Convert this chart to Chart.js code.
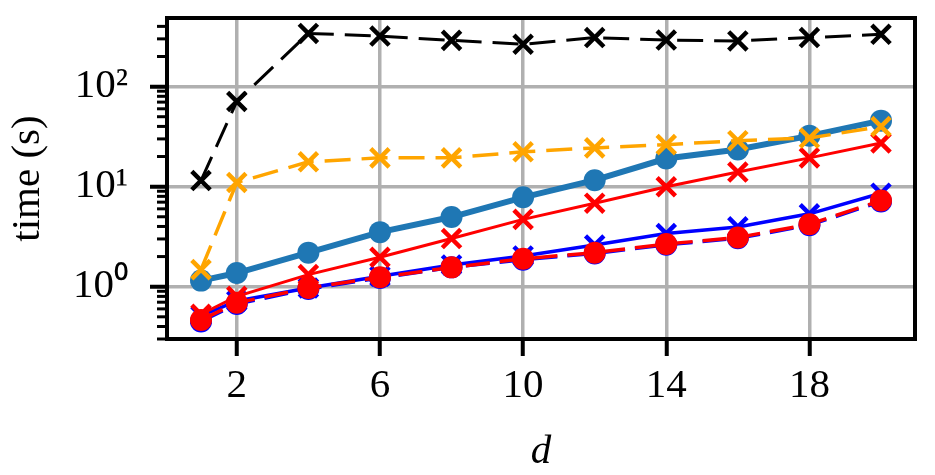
<!DOCTYPE html>
<html>
<head>
<meta charset="utf-8">
<script src="https://cdn.jsdelivr.net/npm/chart.js@4"></script>
<style>
  body { margin: 0; background: #fff; }
  canvas { display: block; }
</style>
</head>
<body>
<canvas id="chart" width="935" height="475"></canvas>
<script>
  // problem size d
  const dValues = [1, 2, 4, 6, 8, 10, 12, 14, 16, 18, 20];

  // run times in seconds, one array per method
  const blackCross  = [11.5, 71, 340, 320, 290, 265, 309, 292, 286, 309, 333];
  const orangeCross = [1.48, 11.0, 17.7, 19.4, 19.4, 22.3, 24.4, 26.3, 28.8, 30.6, 39.9];
  const tabBlueDots = [1.15, 1.37, 2.19, 3.51, 4.97, 7.82, 11.6, 19.1, 23.5, 32.2, 45.7];
  const redCross    = [0.53, 0.80, 1.32, 1.97, 3.03, 4.71, 6.83, 9.98, 14.0, 19.4, 27.3];
  const blueCross   = [0.51, 0.72, 0.97, 1.27, 1.65, 2.03, 2.61, 3.40, 3.96, 5.35, 8.6];
  const blueDots    = [0.45, 0.67, 0.95, 1.22, 1.56, 1.86, 2.15, 2.62, 3.05, 4.12, 7.1];
  const redDots     = [0.464, 0.69, 0.97, 1.24, 1.56, 1.90, 2.19, 2.67, 3.10, 4.21, 7.26];

  // axis ticks
  const xTicks = [2, 6, 10, 14, 18];
  const yTicks = [1, 10, 100];
  const yTickLabels = ['10⁰', '10¹', '10²'];

  const serif = "'Liberation Serif', 'Times New Roman', serif";

  function pts(vals) {
    return dValues.map((d, i) => ({ x: d, y: vals[i] }));
  }

  // box round the plot + minor ticks on the log axis
  const frame = {
    id: 'frame',
    afterDraw(chart) {
      const ctx = chart.ctx;
      const a = chart.chartArea;
      const y = chart.scales.y;
      ctx.save();
      ctx.strokeStyle = '#000';
      ctx.lineWidth = 3;
      for (let e = -1; e <= 2; e++) {
        for (let m = 2; m <= 9; m++) {
          const v = m * Math.pow(10, e);
          if (v < y.min || v > y.max) continue;
          const py = y.getPixelForValue(v);
          ctx.beginPath();
          ctx.moveTo(a.left - 10, py);
          ctx.lineTo(a.left, py);
          ctx.stroke();
        }
      }
      ctx.lineWidth = 4;
      ctx.strokeRect(a.left, a.top, a.right - a.left, a.bottom - a.top);
      ctx.restore();
    }
  };

  const ctx = document.getElementById('chart').getContext('2d');
  new Chart(ctx, {
    type: 'line',
    data: {
      datasets: [
        {
          data: pts(blackCross), order: 0,
          borderColor: '#000', borderWidth: 3, borderDash: [26, 11],
          pointStyle: 'crossRot', pointRadius: 13, pointBorderWidth: 4.5,
          pointBorderColor: '#000'
        },
        {
          data: pts(orangeCross), order: 1,
          borderColor: '#ffa500', borderWidth: 3.5, borderDash: [26, 11],
          pointStyle: 'crossRot', pointRadius: 13, pointBorderWidth: 4.5,
          pointBorderColor: '#ffa500'
        },
        {
          data: pts(redDots), order: 2,
          borderColor: '#ff0000', borderWidth: 3.5, borderDash: [24, 10],
          pointStyle: 'circle', pointRadius: 11, pointBorderWidth: 0,
          pointBackgroundColor: '#ff0000'
        },
        {
          data: pts(blueDots), order: 3,
          borderColor: '#0000ff', borderWidth: 3.5, borderDash: [24, 10],
          pointStyle: 'circle', pointRadius: 11, pointBorderWidth: 0,
          pointBackgroundColor: '#0000ff'
        },
        {
          data: pts(redCross), order: 4,
          borderColor: '#ff0000', borderWidth: 3,
          pointStyle: 'crossRot', pointRadius: 13, pointBorderWidth: 4.5,
          pointBorderColor: '#ff0000'
        },
        {
          data: pts(blueCross), order: 5,
          borderColor: '#0000ff', borderWidth: 3.5,
          pointStyle: 'crossRot', pointRadius: 13, pointBorderWidth: 4.5,
          pointBorderColor: '#0000ff'
        },
        {
          data: pts(tabBlueDots), order: 6,
          borderColor: '#1f77b4', borderWidth: 6,
          pointStyle: 'circle', pointRadius: 11, pointBorderWidth: 0,
          pointBackgroundColor: '#1f77b4'
        }
      ]
    },
    options: {
      responsive: false,
      devicePixelRatio: 1,
      animation: false,
      layout: { padding: { left: 0, right: 20, top: 18, bottom: 0 } },
      plugins: { legend: { display: false }, tooltip: { enabled: false } },
      scales: {
        x: {
          type: 'linear',
          min: 0.05,
          max: 20.95,
          afterBuildTicks: s => { s.ticks = xTicks.map(v => ({ value: v })); },
          afterFit: s => { s.height = 136; s.paddingLeft = 0; s.paddingRight = 0; },
          ticks: {
            callback: v => String(v),
            color: '#000',
            font: { family: serif, size: 41 },
            padding: 6,
            maxRotation: 0,
            autoSkip: false
          },
          grid: {
            color: '#b0b0b0', lineWidth: 3.5,
            tickColor: '#000', tickWidth: 4, tickLength: 17
          },
          border: { display: false },
          title: {
            display: true,
            text: 'd',
            color: '#000',
            font: { family: serif, size: 41, style: 'italic', lineHeight: 1 },
            padding: { top: 0, bottom: 2 }
          }
        },
        y: {
          type: 'logarithmic',
          min: 0.333,
          max: 485,
          afterBuildTicks: s => { s.ticks = yTicks.map(v => ({ value: v })); },
          afterFit: s => { s.width = 167; s.paddingTop = 0; s.paddingBottom = 0; },
          ticks: {
            callback: v => yTickLabels[yTicks.indexOf(v)],
            color: '#000',
            font: { family: serif, size: 41 },
            padding: 22,
            autoSkip: false
          },
          grid: {
            color: '#b0b0b0', lineWidth: 3.5,
            tickColor: '#000', tickWidth: 4, tickLength: 17
          },
          border: { display: false },
          title: {
            display: true,
            text: 'time (s)',
            color: '#000',
            font: { family: serif, size: 41, lineHeight: 1 },
            padding: { top: 8, bottom: 0 }
          }
        }
      }
    },
    plugins: [frame]
  });
</script>
</body>
</html>
